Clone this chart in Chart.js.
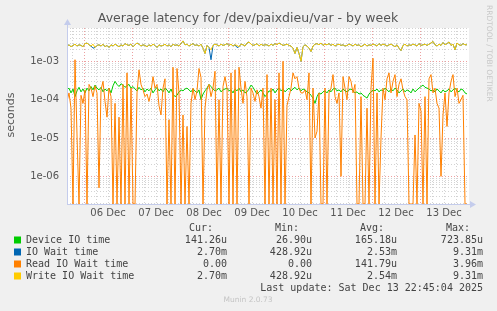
<!DOCTYPE html>
<html><head><meta charset="utf-8">
<script src="https://cdn.jsdelivr.net/npm/chart.js@4"></script>
<style>html,body{margin:0;padding:0;background:#F0F0F0;overflow:hidden}canvas{display:block}</style>
</head><body>
<canvas id="c" width="497" height="311"></canvas>
<script>
// ---- data (values in microseconds, one sample per hour) ----
const titleText = 'Average latency for /dev/paixdieu/var - by week';
const dayLabels = ['06 Dec','07 Dec','08 Dec','09 Dec','10 Dec','11 Dec','12 Dec','13 Dec'];
const startHour = -8.5;   // hours relative to 06 Dec 00:00
const stepHours = 1;

const deviceIO = [
180,200,150,190,120,170,210,160,190,150,
200,170,220,180,240,200,180,210,160,190,
170,200,150,230,300,250,220,260,240,210,
230,250,200,220,190,170,210,180,200,160,
190,170,200,150,180,210,170,190,160,200,
180,150,190,140,120,130,160,180,170,190,
200,180,160,190,170,150,180,100,140,170,
200,250,220,190,170,180,200,160,180,190,
200,170,180,150,190,170,200,160,180,150,
160,190,240,210,170,140,160,180,150,120,
140,170,160,190,150,180,200,170,190,160,
180,200,170,190,210,180,200,170,190,180,
160,150,130,110,80,120,150,140,160,170,
150,180,160,190,200,170,180,160,190,170,
160,180,190,170,150,160,140,150,130,120,
110,140,160,180,170,190,160,180,170,200,
180,160,190,170,200,180,150,170,190,160,
180,170,150,190,160,180,200,220,240,210,
200,190,170,180,160,190,170,150,180,160,
170,190,160,180,200,170,160,190,180,150,141];

const writeWait = [
2500,2700,2400,2600,2800,2500,2700,2600,2400,2900,
3000,2700,2500,2800,2300,2600,2700,2500,2800,2400,
2600,2300,2700,2500,2800,2600,2400,2700,2500,2900,
2700,2600,2800,2400,2700,3000,2800,2500,2700,2600,
2400,2700,2500,2800,2600,2300,2700,2500,2600,2800,
2500,2700,2400,2800,2600,2700,2500,2900,3400,2700,
2800,2500,2700,2900,2600,2700,2500,2800,2200,1600,
2600,2300,2000,2600,2800,2700,2500,2800,2600,2700,
2900,2600,2800,2500,2700,2600,2400,2800,2700,2500,
3000,3200,2800,2600,2700,2900,2500,2800,2600,2700,
2700,2500,2800,2600,2900,2700,3000,2800,2600,2700,
2800,2600,2500,2200,1600,2300,1600,1000,2400,2700,
2500,2200,1800,2500,2800,2900,2700,3000,2600,2800,
2700,2900,2600,2800,2500,2700,2800,2600,2700,2500,
2600,2800,2700,2500,2800,2600,2700,2400,2600,2800,
2500,2700,2600,2800,2700,2500,2900,2600,2800,2700,
2500,2700,2800,2600,2400,2700,2200,1900,2600,2800,
2500,2700,2600,2800,2700,2500,2900,2600,2700,2800,
2600,2800,3000,3300,2700,2500,2800,2600,3100,2700,
2900,3200,2600,2800,2000,3000,2700,2600,2900,2700,2700];

const ioWait = [
2500,2700,2400,2600,2800,2500,2700,2600,2400,2900,
3000,2700,2500,2200,2300,2600,2700,2500,2800,2400,
2600,2300,2700,2500,2800,2600,2400,2700,2500,2900,
2700,2600,2800,2400,2700,3000,2800,2500,2700,2600,
2400,2700,2500,2800,2600,2300,2700,2500,2600,2800,
2500,2700,2400,2800,2600,2700,2500,2900,3400,2700,
2800,2500,2700,2900,2600,2700,2500,2800,2200,1600,
2600,2300,1100,2600,2800,2700,2500,2800,2600,2700,
2900,2600,2800,2500,2700,2300,2400,2800,2700,2500,
3000,3200,2800,2600,2700,2900,2500,2800,2600,2700,
2700,2500,2800,2600,2900,2700,3000,2800,2600,2700,
2800,2600,2500,2200,1600,2300,1600,1000,2400,2700,
2500,2200,1800,2500,2800,2900,2700,3000,2600,2800,
2700,2900,2600,2800,2500,2700,2800,2600,2700,2500,
2600,2800,2700,2500,2800,2600,2700,2400,2600,2800,
2500,2700,2600,2800,2700,2500,2900,2600,2800,2700,
2500,2700,2800,2600,2400,2700,2200,1900,2600,2800,
2500,2700,2600,2800,2700,2500,2900,2600,2700,2800,
2600,2800,3000,3300,2700,2500,2800,2600,3100,2700,
2900,3200,2600,2800,2000,3000,2700,2600,2900,2700,2700];

const readWait = [
90,150,60,0,1100,12,0,130,80,180,
0,250,200,120,230,150,0.5,180,300,90,
35,200,120,0,80,0,35,0,250,0,
500,0,200,0,0,150,600,250,180,120,
140,90,160,400,200,250,70,40,200,350,
0,30,0,700,0,650,150,0,40,0,
20,0,80,200,100,170,650,380,0,60,
180,250,120,200,550,0,100,0,220,400,
200,0,500,0,600,0,700,200,80,300,
120,0,200,150,90,180,120,60,200,0,
450,0,200,0,100,0,500,0,1000,0,
70,120,200,500,350,400,200,150,150,180,
100,500,0,200,10,15,150,0,0,200,
0,150,200,450,120,80,150,1,400,200,
100,400,300,150,250,0,0,120,0,0,
60,0,200,1200,0,150,0,10,200,100,
350,500,150,300,450,120,250,350,180,120,
100,0,0,0,12,0,80,50,0,120,
0,350,450,150,200,80,60,1,40,150,
20,150,300,450,120,200,80,100,130,0,0];

const seriesNames = ['Device IO time','IO Wait time','Read IO Wait time','Write IO Wait time'];
const seriesColors = ['#00CC00','#0066B3','#FF8000','#FFCC00'];
const curVals = ['141.26u','2.70m','0.00','2.70m'];
const minVals = ['26.90u','428.92u','0.00','428.92u'];
const avgVals = ['165.18u','2.53m','141.79u','2.54m'];
const maxVals = ['723.85u','9.31m','3.96m','9.31m'];
const lastUpdate = 'Last update: Sat Dec 13 22:45:04 2025';
const footer = 'Munin 2.0.73';
const sideText = 'RRDTOOL / TOBI OETIKER';

// ---- build ----
const toPts = arr => arr.map((v,i)=>({x:startHour+i*stepHours, y:v*1e-6}));
const seriesData = [deviceIO, ioWait, readWait, writeWait];
const orders = [4,3,2,1];
const datasets = seriesData.map((arr,k)=>({
  label: seriesNames[k], data: toPts(arr), borderColor: seriesColors[k],
  backgroundColor: seriesColors[k], borderWidth: 1, pointRadius: 0, tension: 0,
  fill: false, order: orders[k]
}));

const X_MIN = -8.5, X_MAX = 191.5, Y_MIN = 1.9e-7, Y_MAX = 7.4e-3;
const MAJOR = 'rgba(230,120,120,0.7)', MINOR = 'rgba(200,200,200,0.8)';
const AXIS = '#C4CCEC';

const deco = {
  id:'deco',
  beforeDraw(chart){
    const {ctx, chartArea:a} = chart;
    ctx.save();
    ctx.fillStyle = '#F0F0F0'; ctx.fillRect(0,0,chart.width,chart.height);
    ctx.fillStyle = '#FFFFFF'; ctx.fillRect(a.left, a.top, a.right-a.left+2, a.bottom-a.top);
    ctx.restore();
  },
  afterDraw(chart){
    const {ctx, chartArea:a} = chart;
    ctx.save();
    // axis lines + arrows
    ctx.strokeStyle = AXIS; ctx.fillStyle = AXIS; ctx.lineWidth = 1;
    ctx.beginPath(); ctx.moveTo(a.left+0.5, a.bottom); ctx.lineTo(a.left+0.5, a.top-4); ctx.stroke();
    ctx.beginPath(); ctx.moveTo(a.left-3, a.top-3); ctx.lineTo(a.left+4, a.top-3); ctx.lineTo(a.left+0.5, a.top-9); ctx.closePath(); ctx.fill();
    ctx.beginPath(); ctx.moveTo(a.left, a.bottom+0.5); ctx.lineTo(a.right+4, a.bottom+0.5); ctx.stroke();
    ctx.beginPath(); ctx.moveTo(a.right+3, a.bottom-3); ctx.lineTo(a.right+3, a.bottom+4); ctx.lineTo(a.right+9, a.bottom+0.5); ctx.closePath(); ctx.fill();
    // title
    ctx.fillStyle = '#555555'; ctx.font = '12.5px "DejaVu Sans"'; ctx.textAlign = 'center'; ctx.textBaseline = 'middle';
    ctx.fillText(titleText, 248, 19);
    // y title
    ctx.save(); ctx.translate(11, 115); ctx.rotate(-Math.PI/2);
    ctx.font = '11px "DejaVu Sans"'; ctx.fillText('seconds', 0, 0); ctx.restore();
    // side text
    ctx.save(); ctx.translate(489, 5); ctx.rotate(Math.PI/2);
    ctx.fillStyle = '#C8C8C8'; ctx.font = '7.5px "DejaVu Sans"'; ctx.textAlign = 'left';
    ctx.fillText(sideText, 0, 0); ctx.restore();
    // legend
    ctx.font = '10px "DejaVu Sans Mono"'; ctx.fillStyle = '#444444'; ctx.textBaseline = 'middle';
    ctx.textAlign = 'right';
    ctx.fillText('Cur:', 213, 228); ctx.fillText('Min:', 299, 228);
    ctx.fillText('Avg:', 384, 228); ctx.fillText('Max:', 470, 228);
    for (let k=0;k<4;k++){
      const y = 240 + k*12;
      ctx.fillStyle = seriesColors[k]; ctx.fillRect(14, y-3.5, 7, 7);
      ctx.fillStyle = '#444444';
      ctx.textAlign = 'left'; ctx.fillText(seriesNames[k], 26, y);
      ctx.textAlign = 'right';
      ctx.fillText(curVals[k], 227, y); ctx.fillText(minVals[k], 312, y);
      ctx.fillText(avgVals[k], 397, y); ctx.fillText(maxVals[k], 483, y);
    }
    ctx.fillText(lastUpdate, 483, 288);
    ctx.fillStyle = '#C4C4C4'; ctx.font = '7.5px "DejaVu Sans"'; ctx.textAlign = 'center';
    ctx.fillText(footer, 248, 300);
    ctx.restore();
  }
};

new Chart(document.getElementById('c'), {
  type: 'line',
  data: { datasets },
  options: {
    responsive: false, animation: false, devicePixelRatio: 1,
    parsing: false, normalized: true,
    layout: { padding: { left: 0, top: 28, right: 30, bottom: 87 } },
    plugins: { legend: {display:false}, title:{display:false}, tooltip:{enabled:false} },
    scales: {
      x: {
        type: 'linear', min: X_MIN, max: X_MAX,
        afterBuildTicks(s){ const t=[]; for(let v=-6; v<=186; v+=6) t.push({value:v}); s.ticks=t; },
        afterFit(s){ s.height = 20; },
        ticks: {
          autoSkip:false, maxRotation:0, padding:3, color:'#555555',
          font:{family:'DejaVu Sans', size:10},
          callback(v){ return ((v-12)%24===0 && v>=12) ? dayLabels[(v-12)/24] : ''; }
        },
        grid: {
          drawTicks:false, lineWidth:1,
          color: c => (c.tick && c.tick.value%24===0) ? MAJOR : MINOR
        },
        border: { display:false, dash:[1,2] }
      },
      y: {
        type: 'logarithmic', min: Y_MIN, max: Y_MAX,
        afterBuildTicks(s){
          const t=[];
          for (let e=-7;e<=-3;e++) for (let m=1;m<=9;m++){ const v=m*Math.pow(10,e); if(v>=Y_MIN && v<=Y_MAX) t.push({value:v}); }
          s.ticks=t;
        },
        afterFit(s){ s.width = 67; },
        ticks: {
          autoSkip:false, padding:8, color:'#555555',
          font:{family:'DejaVu Sans', size:10},
          callback(v){
            const e = Math.round(Math.log10(v));
            if (Math.abs(v/Math.pow(10,e)-1) > 1e-6) return '';
            return '1e-' + String(-e).padStart(2,'0');
          }
        },
        grid: {
          drawTicks:false, lineWidth:1,
          color: c => { const v=c.tick?c.tick.value:0; const e=Math.round(Math.log10(v)); return Math.abs(v/Math.pow(10,e)-1)<1e-6 ? MAJOR : MINOR; }
        },
        border: { display:false, dash:[1,2] }
      }
    }
  },
  plugins: [deco]
});
</script>
</body></html>
